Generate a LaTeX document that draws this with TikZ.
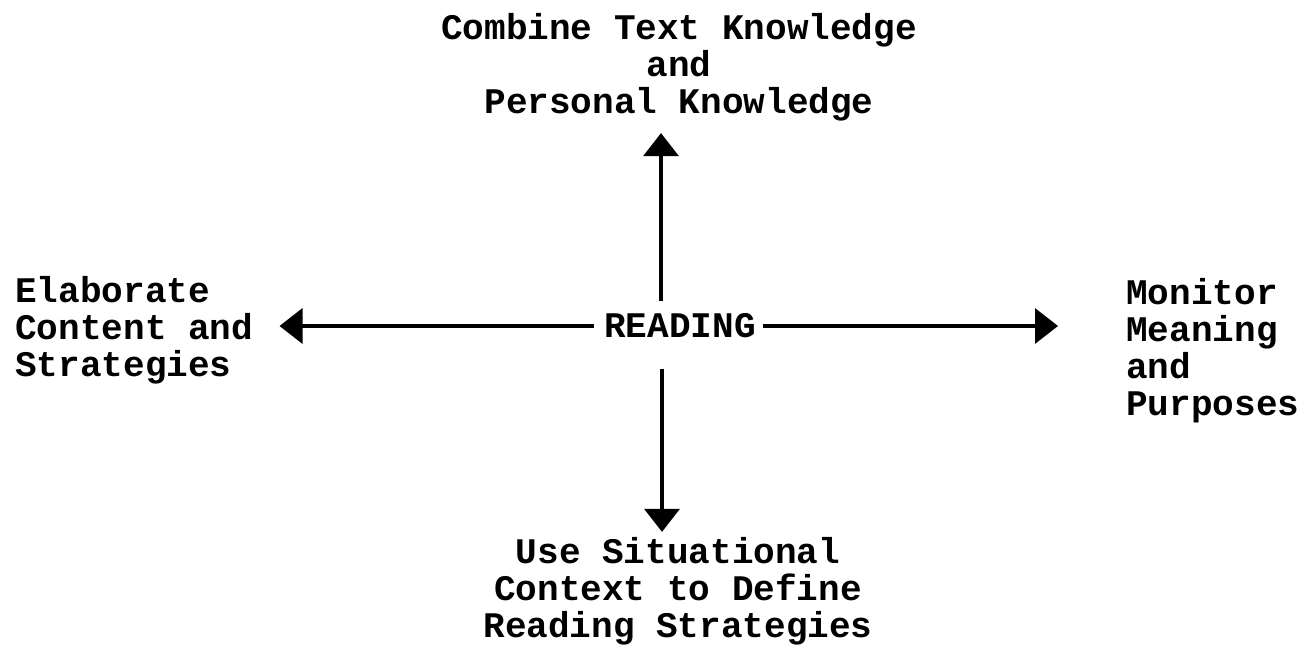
\documentclass[tikz,border=0pt]{standalone}
\usepackage{fontspec}
\setmainfont{Liberation Mono}
\usepackage{tikz}
\usetikzlibrary{arrows.meta,positioning,calc}

\begin{document}
\begin{tikzpicture}[
    lbl/.style={inner sep=0pt, align=center, font=\bfseries\fontsize{20.5}{21}\selectfont},
    side/.style={lbl, align=left, anchor=west},
    arr/.style={-{Triangle[length=0.46cm, width=0.7cm]}, line width=2pt}
]
\useasboundingbox (0,0) rectangle (26.12,-12.94);
\node[lbl] (reading) at (13.60,-6.52) {READING};
\node[lbl] (combine) at (13.58,-1.34) {Combine Text Knowledge\\and\\Personal Knowledge};
\node[side] (elaborate) at (0.30,-6.61) {Elaborate\\Content and\\Strategies};
\node[side] (monitor) at (22.52,-7.01) {Monitor\\Meaning\\and\\Purposes};
\node[lbl] (situate) at (13.56,-11.82) {Use Situational\\Context to Define\\Reading Strategies};

\draw[arr, shorten <=0.24cm, shorten >=0.24cm] ([xshift=-0.38cm]reading.north) -- ([xshift=-0.38cm]reading.north |- combine.south);
\draw[arr, shorten <=0.2cm, shorten >=0.52cm] (reading.west) -- (reading.west -| elaborate.east);
\draw[arr, shorten <=0.13cm, shorten >=1.36cm] (reading.east) -- (reading.east -| monitor.west);
\draw[arr, shorten <=0.6cm, shorten >=0.1cm] ([xshift=-0.36cm]reading.south) -- ([xshift=-0.36cm]reading.south |- situate.north);
\end{tikzpicture}
\end{document}
